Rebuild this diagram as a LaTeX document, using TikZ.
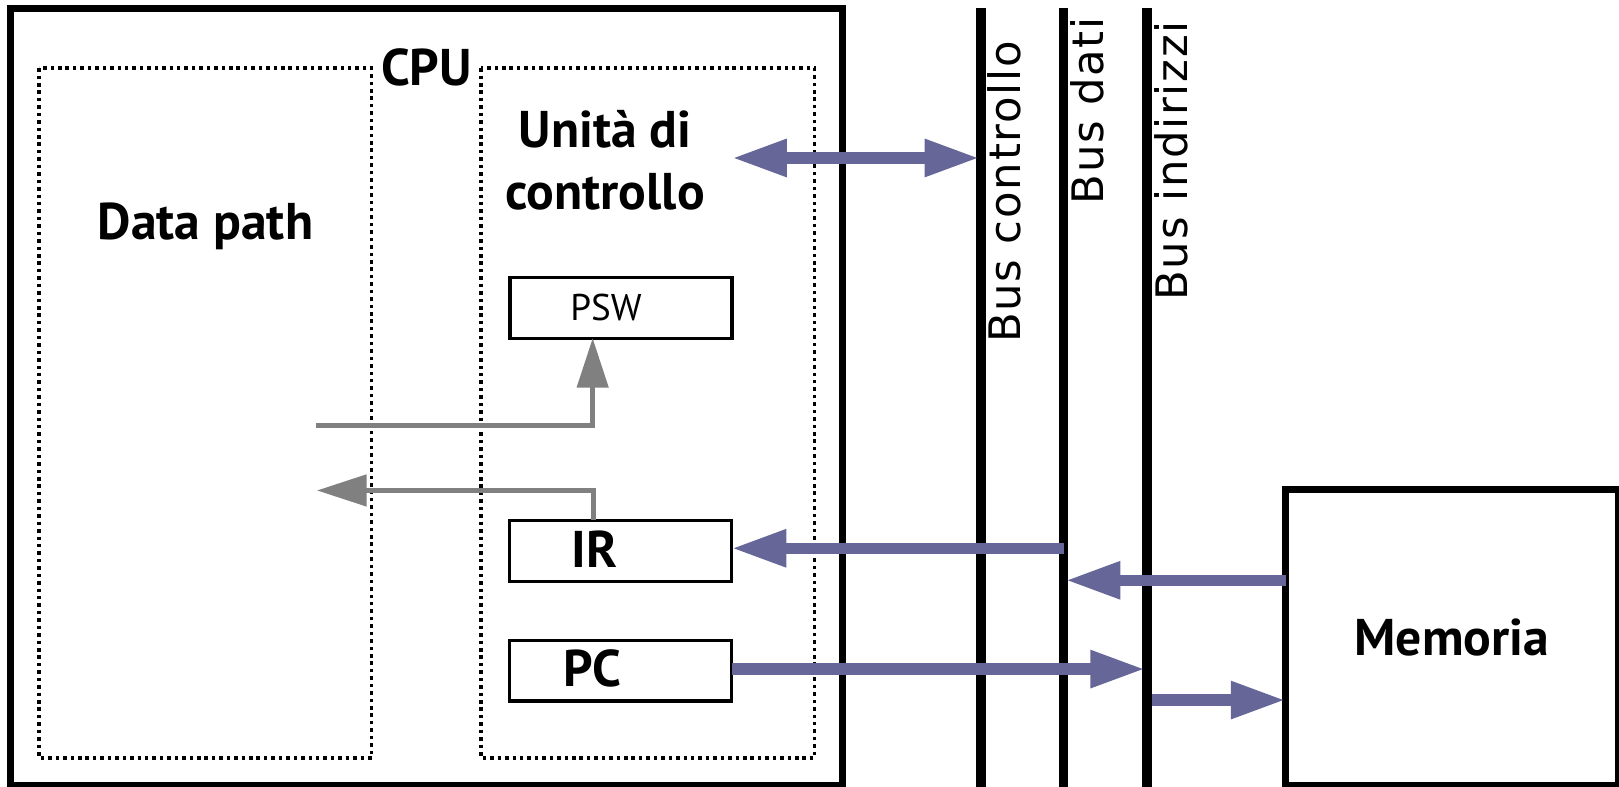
\documentclass[tikz,border=0pt]{standalone}
\usepackage{fontspec}
\setmainfont{PT Sans}
\newfontfamily\busfont[LetterSpace=4]{DejaVu Sans}
\usetikzlibrary{arrows.meta,calc}
\definecolor{busviolet}{RGB}{102,102,153}
\definecolor{ctrlgrey}{RGB}{128,128,128}
\tikzset{
  every node/.style={inner sep=0pt, outer sep=0pt},
  boldtext/.style={font=\fontsize{50}{60}\selectfont\bfseries},
  regtext/.style={font=\fontsize{36}{42}\selectfont},
  buslabel/.style={font=\busfont\fontsize{42}{50}\selectfont, rotate=90, anchor=base west},
  cpubox/.style={draw=black, line width=7pt},
  dotbox/.style={draw=black, line width=3.4pt, dash pattern=on 3.4pt off 3.8pt},
  regbox/.style={draw=black, line width=3.2pt, minimum width=215pt, minimum height=59pt},
  busbar/.style={fill=black, draw=none, minimum width=9.5pt, minimum height=770pt},
  busarrow/.style={draw=busviolet, line width=11pt, -{Triangle[length=53pt,width=34pt]}},
  dblarrow/.style={draw=busviolet, line width=11pt, {Triangle[length=53pt,width=34pt]}-{Triangle[length=53pt,width=34pt]}},
  greyarrow/.style={draw=ctrlgrey, line width=4.6pt, -{Triangle[length=48pt,width=30pt]}},
}
\begin{document}
\begin{tikzpicture}[x=1pt,y=-1pt]
\useasboundingbox (0,0) rectangle (1568,762);
\clip (0,0) rectangle (1568,762);
\fill[white] (0,0) rectangle (1568,762);

% CPU and its parts
\draw[cpubox] (10,8) rectangle (816,761);
\draw[dotbox] (38,66) rectangle (360,734);
\draw[dotbox] (466,66) rectangle (789,734);

\node[boldtext, anchor=base] (cpu) at (413,83) {CPU};
\node[boldtext, anchor=base] (dp) at (199,232) {Data path};
\node[boldtext, anchor=base] (cu1) at (586,143) {Unità di};
\node[boldtext, anchor=base] (cu2) at (586,203) {controllo};

\node[regbox] (PSW) at (601.5,298) {};
\node[regbox] (IR) at (601,533.5) {};
\node[regbox] (PC) at (601,649.5) {};
\node[regtext, anchor=base] (pswt) at (587,310) {PSW};
\node[boldtext, anchor=base] (irt) at (576,550) {IR};
\node[boldtext, anchor=base] (pct) at (574,665) {PC};

% buses
\node[busbar, anchor=north] (bc) at (950,8) {};
\node[busbar, anchor=north] (bd) at (1030,8) {};
\node[busbar, anchor=north] (bi) at (1111,8) {};
\node[buslabel] (lbc) at (988,332) {Bus controllo};
\node[buslabel] (lbd) at (1069,198) {Bus dati};
\node[buslabel] (lbi) at (1150,291) {Bus indirizzi};

% memory
\node[draw=black, line width=6pt, minimum width=322pt, minimum height=286pt, boldtext] (mem) at (1406,617) {Memoria};

% levels
\coordinate (yc) at (0,153);
\coordinate (yir) at (0,531);
\coordinate (ymem) at (0,562);
\coordinate (ypc) at (0,648);
\coordinate (yad) at (0,678);
\coordinate (cuend) at (709,153);
\coordinate (dpout) at (306,412);
\coordinate (dpin) at (307,475);

% bus arrows
\draw[dblarrow] (cuend) -- ([xshift=-1.5pt]bc.center |- yc);
\draw[busarrow] (bd.center |- yir) -- (IR.east |- yir);
\draw[busarrow] (mem.west |- ymem) -- ([xshift=2pt]bd.center |- ymem);
\draw[busarrow] (PC.east |- ypc) -- ([xshift=-2pt]bi.center |- ypc);
\draw[busarrow] (bi.east |- yad) -- (mem.west |- yad);

% internal control arrows
\draw[greyarrow] (dpout) -| ([xshift=-27.5pt]PSW.south);
\draw[greyarrow] ([xshift=-26pt]IR.north) |- (dpin);
\end{tikzpicture}
\end{document}
